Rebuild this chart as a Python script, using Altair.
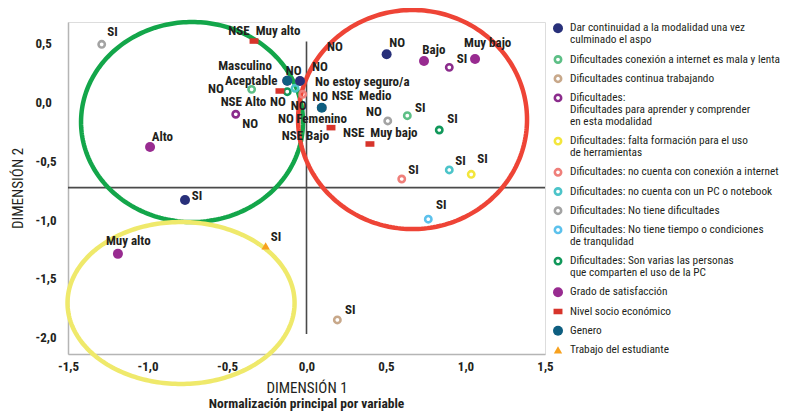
import altair as alt
import numpy as np
import pandas as pd

# ---------------- scales / axes ----------------
W, H = 477, 332
X_DOMAIN = [-1.5, 1.5]
Y_DOMAIN = [-2.14, 0.685]
X_TICKS = [-1.5, -1.0, -0.5, 0.0, 0.5, 1.0, 1.5]
Y_TICKS = [-2.0, -1.5, -1.0, -0.5, 0.0, 0.5]
PX_X = W / (X_DOMAIN[1] - X_DOMAIN[0])
PX_Y = H / (Y_DOMAIN[1] - Y_DOMAIN[0])

FONT = "Roboto Condensed, Open Sans Condensed, Liberation Sans Narrow, Arial Narrow, DejaVu Sans Condensed, sans-serif"
INK = "#231f20"

# ---------------- categories (legend) ----------------
cat_keys = ["dar", "conexmala", "contin", "aprender", "falta", "noconex", "nopc",
            "nodif", "notiempo", "varias", "grado", "nse", "genero", "trabajo"]
cat_names = [
    "Dar continuidad a la modalidad una vez|culminado el aspo",
    "Dificultades conexión a internet es mala y lenta",
    "Dificultades continua trabajando",
    "Dificultades:|Dificultades para aprender y comprender|en esta modalidad",
    "Dificultades: falta formación para el uso|de herramientas",
    "Dificultades: no cuenta con conexión a internet",
    "Dificultades: no cuenta con un PC o notebook",
    "Dificultades: No tiene dificultades",
    "Dificultades: No tiene tiempo o condiciones|de tranqulidad",
    "Dificultades: Son varias las personas|que comparten el uso de la PC",
    "Grado de satisfacción",
    "Nivel socio económico",
    "Genero",
    "Trabajo del estudiante",
]
cat_colors = ["#28307a", "#5dbf86", "#c8a88a", "#8b2c8c", "#f3e63c", "#ef7f7a", "#4cc4c9",
              "#a3a3a3", "#5cc1ec", "#11985a", "#982b90", "#d7342b", "#0e5e80", "#f7a11e"]
cat_marker = ["dot", "ring", "ring", "ring", "ring", "ring", "ring",
              "ring", "ring", "ring", "dot", "rect", "dot", "tri"]

# ---------------- points (dimension 1, dimension 2) ----------------
pt_cat = ["contin", "falta", "notiempo", "trabajo", "grado", "nse",
          "nodif", "nse", "grado", "dar", "grado", "trabajo", "contin", "notiempo",
          "noconex", "nopc", "falta", "dar", "grado", "aprender", "grado", "nodif",
          "conexmala", "varias", "nse", "genero", "dar", "nse", "genero", "nse",
          "conexmala", "aprender", "varias", "nopc", "noconex"]
pt_label = ["NO", "NO", "NO", "NO", "Aceptable", "NSE  Medio",
            "SI", "NSE  Muy alto", "Alto", "SI", "Muy alto", "SI", "SI", "SI",
            "SI", "SI", "SI", "NO", "Bajo", "SI", "Muy bajo", "NO",
            "SI", "SI", "NSE  Muy bajo", "Masculino", "No estoy seguro/a", "NSE Alto", "Femenino", "NSE Bajo",
            "NO", "NO", "NO", "NO", "NO"]
pt_x = [-0.041, -0.041, -0.041, -0.041, -0.121, 0.096,
        -1.288, -0.330, -0.984, -0.764, -1.186, -0.257, 0.194, 0.766,
        0.599, 0.898, 1.036, 0.504, 0.739, 0.898, 1.060, 0.511,
        0.634, 0.835, 0.399, -0.121, -0.041, -0.167, 0.096, 0.154,
        -0.345, -0.445, -0.121, -0.072, -0.024]
pt_y = [0.183, 0.183, 0.183, 0.183, 0.185, -0.044,
        0.495, 0.523, -0.378, -0.829, -1.288, -1.220, -1.850, -0.993,
        -0.651, -0.574, -0.611, 0.410, 0.353, 0.299, 0.370, -0.157,
        -0.112, -0.234, -0.353, 0.185, 0.183, 0.098, -0.044, -0.214,
        0.112, -0.100, 0.092, 0.121, 0.070]
# label offsets (px) from the point to the left/middle of the label text
lbl_dx = [27, 12, -9.3, -22, -62.3, 10,
          5.5, -25.7, 1.7, 6.7, -12, 5, 7.7, 7.7,
          6.6, 6, 6, 2.6, -1.7, 7.4, -11, -21.7,
          7.7, 8, -27, -69, 15, -59.3, -25.5, -49.3,
          -43.7, 6.6, -17.3, -9.3, 9.6]
lbl_dy = [-33.7, -14.3, 24.7, 38, -0.2, -11.7,
          -12.6, -10.3, -10.3, -4, -13, -9.3, -10, -14.3,
          -9, -9, -15, -11, -11, -8, -15.7, -9.3,
          -7.4, -10.7, -10.7, -14.5, 0.7, 11.3, 11.3, 8.3,
          0, 9.7, 10, -17.6, 3]

# ---------------- ellipses (groups) ----------------
ell_names = ["verde", "rojo", "amarillo"]
ell_cx = [-0.720, 0.667, -0.789]
ell_cy = [-0.166, -0.145, -1.706]
ell_rx = [0.698, 0.720, 0.714]
ell_ry = [0.851, 0.932, 0.689]
ell_colors = ["#13a64a", "#ee4436", "#efe96b"]

# ---------------- reference lines ----------------
vline_x, vline_y1, vline_y2 = 0.0, 0.52, -1.97
hline_y, hline_x1, hline_x2 = -0.724, -1.5, 1.5

# ---------------- build frames ----------------
color_of = dict(zip(cat_keys, cat_colors))
kind_of = dict(zip(cat_keys, cat_marker))

pts = pd.DataFrame({"cat": pt_cat, "label": pt_label, "x": pt_x, "y": pt_y,
                    "dx": lbl_dx, "dy": lbl_dy})
pts["label"] = pts["label"].str.replace("  ", "\u00a0 ")
pts["color"] = pts["cat"].map(color_of)
pts["kind"] = pts["cat"].map(kind_of)
pts["lx"] = pts["x"] + pts["dx"] / PX_X
pts["ly"] = pts["y"] - pts["dy"] / PX_Y

t = np.linspace(0, 2 * np.pi, 241)
ell_rows = []
for n, cx, cy, rx, ry, c in zip(ell_names, ell_cx, ell_cy, ell_rx, ell_ry, ell_colors):
    for i, a in enumerate(t):
        ell_rows.append({"eid": n, "i": i, "ex": cx + rx * np.cos(a), "ey": cy + ry * np.sin(a), "color": c})
ell = pd.DataFrame(ell_rows)

LEG_TOP, LEG_STEP, LEG_LINE = 6.3, 19.2, 12.0
leg_sym, leg_txt = [], []
ypx = LEG_TOP
for k, name in zip(cat_keys, cat_names):
    lines = name.split("|")
    leg_sym.append({"cat": k, "ly": Y_DOMAIN[1] - ypx / PX_Y,
                    "color": color_of[k], "kind": kind_of[k]})
    for j, ln in enumerate(lines):
        leg_txt.append({"line": ln, "ly": Y_DOMAIN[1] - (ypx + j * LEG_LINE) / PX_Y})
    ypx += LEG_STEP + LEG_LINE * (len(lines) - 1)
leg_sym = pd.DataFrame(leg_sym)
leg_txt = pd.DataFrame(leg_txt)

# ---------------- encodings ----------------
x_axis = alt.Axis(values=X_TICKS, title="DIMENSIÓN 1", grid=False, ticks=False, tickSize=0,
                  labelExpr="(datum.value < 0 ? '-' : '') + replace(format(abs(datum.value), '.1f'), '.', ',')",
                  labelFlush=False, labelFont=FONT, labelFontSize=13, labelFontWeight="bold",
                  labelColor=INK, labelPadding=6, domainColor="#b5b5b5", domainWidth=1.5,
                  titleFont=FONT, titleFontSize=15, titleFontWeight="normal", titleColor=INK,
                  titlePadding=7)
y_axis = alt.Axis(values=Y_TICKS, title="DIMENSIÓN 2", grid=False, ticks=False, tickSize=0,
                  labelExpr="(datum.value < 0 ? '-' : '') + replace(format(abs(datum.value), '.1f'), '.', ',')",
                  labelFlush=False, labelAlign="left", labelFont=FONT, labelFontSize=13,
                  labelFontWeight="bold", labelColor=INK, labelPadding=33,
                  domainColor="#b5b5b5", domainWidth=1.5,
                  titleFont=FONT, titleFontSize=15, titleFontWeight="normal", titleColor=INK,
                  titlePadding=10)


def X(f):
    return alt.X(f, type="quantitative", axis=x_axis,
                 scale=alt.Scale(domain=X_DOMAIN, nice=False, zero=False))


def Y(f):
    return alt.Y(f, type="quantitative", axis=y_axis,
                 scale=alt.Scale(domain=Y_DOMAIN, nice=False, zero=False))


COLOR = alt.Color("color:N", scale=None, legend=None)
RECT = "M-1,-0.62L1,-0.62L1,0.62L-1,0.62Z"


def markers(df, xenc, yenc):
    base = alt.Chart(df)
    rings = base.transform_filter("datum.kind == 'ring'").mark_point(
        filled=False, size=40, strokeWidth=2.6, opacity=1).encode(x=xenc, y=yenc, color=COLOR)
    rects = base.transform_filter("datum.kind == 'rect'").mark_point(
        shape=RECT, filled=True, size=80, opacity=1, strokeWidth=0).encode(x=xenc, y=yenc, color=COLOR)
    tris = base.transform_filter("datum.kind == 'tri'").mark_point(
        shape="triangle-up", filled=True, size=70, opacity=1, strokeWidth=0).encode(x=xenc, y=yenc, color=COLOR)
    dots = base.transform_filter("datum.kind == 'dot'").mark_circle(
        size=100, opacity=1).encode(x=xenc, y=yenc, color=COLOR)
    return [rings, rects, tris, dots]


vref = alt.Chart(pd.DataFrame({"x": [vline_x], "y": [vline_y1], "y2": [vline_y2]})).mark_rule(
    color="#4a4a4a", strokeWidth=1.6).encode(x=X("x"), y=Y("y"), y2="y2")
href = alt.Chart(pd.DataFrame({"y": [hline_y], "x": [hline_x1], "x2": [hline_x2]})).mark_rule(
    color="#4a4a4a", strokeWidth=1.6).encode(y=Y("y"), x=X("x"), x2="x2")

ellipses = alt.Chart(ell).mark_line(strokeWidth=4.5).encode(
    x=X("ex"), y=Y("ey"), detail="eid:N", order="i:Q", color=COLOR)

labels = alt.Chart(pts).mark_text(
    align="left", baseline="middle", font=FONT, fontSize=13, fontWeight="bold", color=INK
).encode(x=X("lx"), y=Y("ly"), text="label:N")

legend_text = alt.Chart(leg_txt).mark_text(
    align="left", baseline="middle", font=FONT, fontSize=11.3, color=INK
).encode(x=alt.value(502), y=Y("ly"), text="line:N")

layers = [vref, href, ellipses] + markers(pts, X("x"), Y("y")) + [labels] \
    + markers(leg_sym, alt.value(490), Y("ly")) + [legend_text]

chart = alt.layer(*layers).properties(
    width=W, height=H,
    title=alt.TitleParams("Normalización principal por variable", orient="bottom", anchor="middle",
                          frame="group", font=FONT, fontSize=13.5, fontWeight="bold", color=INK, offset=2),
    padding={"left": 60, "top": 14, "right": 247, "bottom": 57},
    autosize=alt.AutoSizeParams(type="none"),
).configure_view(stroke=None).configure(background="white")

chart.save("out.html", embed_options={"renderer": "svg", "actions": False})
